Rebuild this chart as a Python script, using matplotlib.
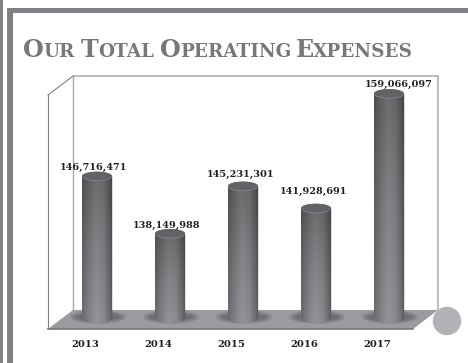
import numpy as np
import matplotlib
matplotlib.use("Agg")
import matplotlib.pyplot as plt
from matplotlib.colors import LinearSegmentedColormap
from matplotlib.patches import Ellipse, PathPatch, Polygon, Rectangle, Circle
from matplotlib.path import Path
from matplotlib.textpath import TextPath

years = ["2013", "2014", "2015", "2016", "2017"]
expenses = [146716471, 138149988, 145231301, 141928691, 159066097]

# Label nudges in pixels, relative to the cylinder centre and top
label_dx = [-3, -3, -2, -2, 10]
label_dy = [9, 9, 12, 17, 10]

W, H = 468, 363
FONT = "DejaVu Serif"
TITLE_GRAY = "#77787b"
BAR_GRAY = "#808184"

fig = plt.figure(figsize=(W / 100, H / 100), dpi=100, facecolor="white")

# Page furniture and the 3D box are laid out in pixel units.
page = fig.add_axes([0, 0, 1, 1], zorder=1)
page.set_xlim(0, W)
page.set_ylim(H, 0)
page.axis("off")

page.add_patch(Rectangle((0, 0), 3.2, H, fc=BAR_GRAY, ec="none"))
page.add_patch(Rectangle((7.3, 8), 5.4, H - 8, fc=BAR_GRAY, ec="none"))
page.add_patch(Rectangle((7.3, 8), W - 7.3, 5.3, fc=BAR_GRAY, ec="none"))

# Back wall and side wall outlines
wall = "#a7a9ac"
page.plot([73, 438, 438], [76, 76, 310], color=wall, lw=1.1, solid_capstyle="butt")
page.plot([73, 73], [76, 310], color=wall, lw=1.0)
page.plot([48, 73], [95, 76], color="#808080", lw=0.8)
page.plot([48, 48], [95, 329], color="#808080", lw=0.8)

# Floor
page.add_patch(Polygon([(73, 310), (438, 310), (413, 329), (48, 329)],
                       closed=True, fc="#9a9b9e", ec="none"))
page.plot([48, 413], [329, 329], color="#77787b", lw=1.2)

page.add_patch(Circle((447, 321), 14.2, fc="#b1b2b6", ec="none", zorder=6))

# Title in small capitals: each run is placed after the previous one.
BIG, SMALL = 17.2, 13.2
title_runs = [("O", BIG, 0), ("UR", SMALL, 5.5), ("T", BIG, 0), ("OTAL", SMALL, 5.5),
              ("O", BIG, 0), ("PERATING", SMALL, 5.5), ("E", BIG, 0), ("XPENSES", SMALL, 0)]
cursor = 23.0
for run, size, gap in title_runs:
    t = page.text(cursor, 57, run, family=FONT, weight="bold", fontsize=size,
                  color=TITLE_GRAY, ha="left", va="baseline")
    run_width = TextPath((0, 0), run, size=size * 100 / 72,
                         prop=t.get_fontproperties()).get_extents().x1
    cursor += run_width + 0.5 + gap

# Value axis overlaid on the figure: cylinder tops come from the expense scale.
LEFT, RIGHT, BOTTOM, TOP = 48.0, 438.0, 318.0, 76.0
PX_PER_MILLION = 6.69
SLOT = 73.0
chart = fig.add_axes([LEFT / W, 1 - BOTTOM / H, (RIGHT - LEFT) / W, (BOTTOM - TOP) / H], zorder=2)
chart.patch.set_alpha(0)
chart.axis("off")
value_min = 138149988 - (BOTTOM - 234) / PX_PER_MILLION * 1e6
value_max = value_min + (BOTTOM - TOP) / PX_PER_MILLION * 1e6
xlim = ((LEFT - 97) / SLOT, (RIGHT - 97) / SLOT)
ylim = (value_min, value_max)


def px_y(pixels):
    return pixels / PX_PER_MILLION * 1e6


half_w = 15.2 / SLOT
ry = px_y(5.0)

cyl = LinearSegmentedColormap.from_list(
    "cyl", [(0, "#6a6b6e"), (0.2, "#808184"), (0.45, "#949598"),
            (0.7, "#8a8b8e"), (0.88, "#6f7073"), (1, "#56575a")])
shade = cyl(np.linspace(0, 1, 60))[None, :, :3]
fade = np.interp(np.linspace(0, 1, 80), [0, 0.5, 1], [1.0, 0.88, 0.72])[:, None, None]

for i, (year, val) in enumerate(zip(years, expenses)):
    # Soft shadow on the floor, built from stacked translucent ellipses
    for k in np.linspace(1.0, 0.45, 7):
        chart.add_patch(Ellipse((i + 1 / SLOT, value_min + px_y(1)), 2 * half_w + 2 * k * 13 / SLOT,
                                2 * k * px_y(7), fc="#55565a", alpha=0.13, ec="none",
                                zorder=1, clip_on=False))

    im = chart.imshow(shade * fade, extent=[i - half_w, i + half_w, value_min - ry, val + ry],
                      origin="lower", aspect="auto", zorder=3, interpolation="bilinear")

    # Silhouette: rounded base and rounded top of the cylinder
    low_t = np.linspace(np.pi, 2 * np.pi, 40)
    top_t = np.linspace(0, np.pi, 40)
    low = np.column_stack([i + half_w * np.cos(low_t), value_min + ry * np.sin(low_t)])
    high = np.column_stack([i + half_w * np.cos(top_t), val + ry * np.sin(top_t)])
    clip = PathPatch(Path(np.vstack([low, high, low[:1]]), closed=True),
                     transform=chart.transData, fc="none", ec="none")
    chart.add_patch(clip)
    im.set_clip_path(clip)
    im.set_clip_box(fig.bbox)

    # Top face with a thin light rim along its front edge
    chart.add_patch(Ellipse((i, val), 2 * half_w * 0.98, 2 * ry * 0.92,
                            fc="#808184", ec="none", zorder=4, clip_on=False))
    chart.add_patch(Ellipse((i, val + px_y(0.7)), 2 * half_w * 0.98, 2 * ry * 0.85,
                            fc="#626366", ec="none", zorder=4, clip_on=False))

    chart.text(i + label_dx[i] / SLOT, val + px_y(label_dy[i]), f"{val:,}",
               family=FONT, weight="bold", fontsize=7.0, color="#231f20",
               ha="center", va="center", zorder=5, clip_on=False)
    chart.text(i - 12 / SLOT, value_min - px_y(26), year, family=FONT, weight="bold",
               fontsize=7.2, color="#231f20", ha="center", va="center", clip_on=False)

chart.set_xlim(*xlim)
chart.set_ylim(*ylim)

fig.savefig("out.png", dpi=100, facecolor="white")
